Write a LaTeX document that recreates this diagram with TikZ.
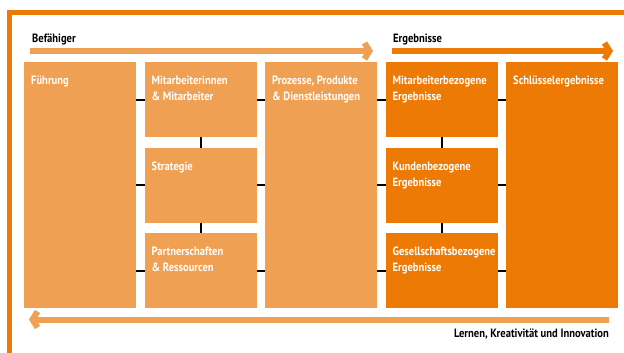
\documentclass[tikz,border=0pt]{standalone}
\usepackage{fontspec}
\setmainfont{PT Sans}[FakeStretch=0.88]
\usetikzlibrary{arrows.meta, positioning}
\definecolor{efmlight}{HTML}{F0A052}
\definecolor{efmdark}{HTML}{EC7A05}

\begin{document}
\begin{tikzpicture}[x=1pt, y=-1pt,
    box/.style = {rectangle, fill=#1, inner sep=0, anchor=north west, minimum width=112pt},
    tall/.style = {box=#1, minimum height=246pt},
    small/.style = {box=#1, minimum height=75pt},
    txt/.style = {anchor=north west, inner xsep=7pt, inner ysep=14pt, text=white, align=left,
      font=\fontsize{12}{16}\selectfont\bfseries},
    head/.style = {inner sep=0, font=\fontsize{12}{14}\selectfont\bfseries},
    link/.style = {line width=1.6pt, black},
    flow/.style = {line width=6pt, -{Straight Barb[length=5pt, width=16pt]}}]
  \path [fill=white, use as bounding box] (0,0) rectangle (624,353);
  \draw [efmdark, line width=5pt] (9.5,353) -- (9.5,12.5) -- (624,12.5);

  \node (fuehr) [tall=efmlight, label={[txt]north west:Führung}] at (24,62) {};
  \node (mit) [small=efmlight, label={[txt]north west:{Mitarbeiterinnen\\\& Mitarbeiter}}] at (144.5,62) {};
  \node (strat) [small=efmlight, label={[txt]north west:Strategie}] at (144.5,147.5) {};
  \node (partner) [small=efmlight, label={[txt]north west:{Partnerschaften\\\& Ressourcen}}] at (144.5,233) {};
  \node (proz) [tall=efmlight, label={[txt]north west:{Prozesse, Produkte\\\& Dienstleistungen}}] at (265,62) {};
  \node (mbez) [small=efmdark, label={[txt]north west:{Mitarbeiterbezogene\\Ergebnisse}}] at (385.5,62) {};
  \node (kbez) [small=efmdark, label={[txt]north west:{Kundenbezogene\\Ergebnisse}}] at (385.5,147.5) {};
  \node (gbez) [small=efmdark, label={[txt]north west:{Gesellschaftsbezogene\\Ergebnisse}}] at (385.5,233) {};
  \node (schl) [tall=efmdark, label={[txt]north west:Schlüsselergebnisse}] at (506,62) {};

  \node (befaehiger) [head, anchor=base west] at (32,43) {Befähiger};
  \node (ergebnisse) [head, anchor=base west] at (393,43) {Ergebnisse};
  \node (lernen) [head, anchor=base east] at (609,337) {Lernen, Kreativität und Innovation};

  \coordinate (bef-s) at (30,51);
  \coordinate (bef-e) at (373,51);
  \coordinate (erg-s) at (392,51);
  \coordinate (erg-e) at (613,51);
  \coordinate (lern-s) at (609,319.5);
  \coordinate (lern-e) at (29,319.5);
  \draw [flow, efmlight] (bef-s) -- (bef-e);
  \draw [flow, efmdark] (erg-s) -- (erg-e);
  \draw [flow, efmlight] (lern-s) -- (lern-e);

  \foreach \n in {mit, strat, partner} {
    \draw [link] (\n.west) -- (\n.west -| fuehr.east);
    \draw [link] (\n.east) -- (\n.east -| proz.west);
  }
  \foreach \n in {mbez, kbez, gbez} {
    \draw [link] (\n.west) -- (\n.west -| proz.east);
    \draw [link] (\n.east) -- (\n.east -| schl.west);
  }
  \path [link]
    (mit) edge (strat)
    (strat) edge (partner)
    (mbez) edge (kbez)
    (kbez) edge (gbez);
\end{tikzpicture}
\end{document}
